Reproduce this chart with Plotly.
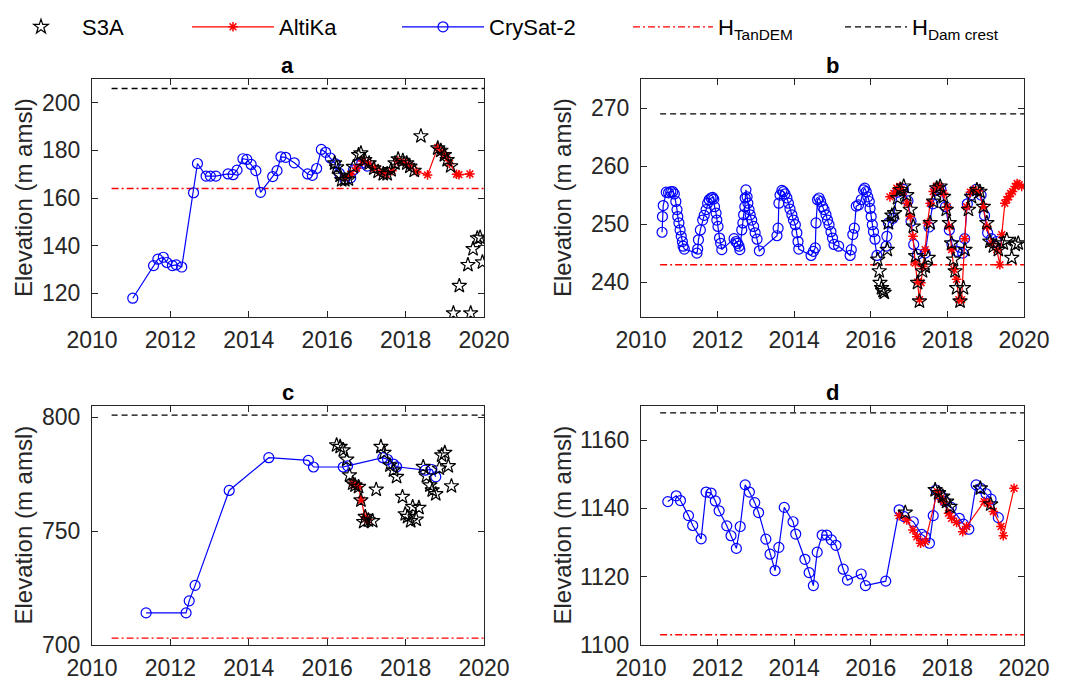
import plotly.graph_objects as go

# ---------------- DATA ----------------
years_ticks = [2010, 2012, 2014, 2016, 2018, 2020]
ref_line_x = [2010.5, 2020.0]

# Panel a
a_cs2_year = [2011.04, 2011.57, 2011.68, 2011.82, 2011.91, 2012.05, 2012.15, 2012.29, 2012.59, 2012.69,
              2012.91, 2013.02, 2013.16, 2013.47, 2013.60, 2013.70, 2013.85, 2013.95, 2014.06, 2014.18,
              2014.30, 2014.61, 2014.72, 2014.82, 2014.94, 2015.16, 2015.50, 2015.62, 2015.73, 2015.85,
              2015.96, 2016.08, 2016.20, 2016.31, 2016.45, 2016.60, 2016.67, 2016.75, 2016.88, 2017.02]
a_cs2_elev = [117.9, 131.6, 134.3, 135.1, 132.9, 131.6, 131.9, 131.0, 162.2, 174.5,
              169.2, 169.2, 169.2, 170.1, 169.8, 171.7, 176.5, 176.2, 174.1, 171.5,
              162.4, 169.0, 171.5, 177.3, 177.1, 174.8, 170.1, 169.5, 172.4, 180.4,
              179.2, 176.8, 174.5, 170.4, 168.0, 168.5, 171.8, 173.9, 174.6, 173.4]
a_alt_year = [2016.45, 2016.60, 2016.75, 2016.90, 2017.05, 2017.20, 2017.35, 2017.50, 2017.65, 2017.80,
              2017.95, 2018.10, 2018.28, 2018.56, 2018.82, 2018.92, 2019.02, 2019.12, 2019.30, 2019.36,
              2019.64]
a_alt_elev = [168.5, 170.0, 172.5, 175.5, 174.5, 172.5, 170.8, 170.0, 171.5, 175.5,
              175.0, 173.5, 171.1, 169.7, 181.2, 179.5, 177.5, 174.5, 170.0, 169.8,
              170.1]
a_s3a_year = [2016.19, 2016.24, 2016.33, 2016.37, 2016.45, 2016.54, 2016.67, 2016.80, 2016.86, 2016.96,
              2017.07, 2017.19, 2017.30, 2017.43, 2017.53, 2017.63, 2017.73, 2017.81, 2017.93, 2018.03,
              2018.11, 2018.22, 2018.39, 2018.82, 2018.90, 2018.99, 2019.06, 2019.15, 2019.22, 2019.37,
              2019.59, 2019.66, 2019.72, 2019.83, 2019.90, 2019.96]
a_s3a_elev = [174.6, 172.9, 169.4, 167.6, 167.6, 167.9, 173.1, 178.1, 178.8, 176.0,
              174.6, 172.5, 171.1, 170.1, 170.1, 171.8, 174.6, 176.3, 175.7, 174.6,
              173.2, 171.5, 186.0, 180.9, 179.9, 178.1, 176.0, 173.4, 111.6, 123.1,
              131.9, 111.6, 138.6, 143.1, 143.4, 133.0]
a_tandem = 164
a_dam = 206

# Panel b
b_cs2_year = [2010.55, 2010.56, 2010.58, 2010.66, 2010.72, 2010.78, 2010.83, 2010.87, 2010.91, 2010.94,
              2010.96, 2010.99, 2011.02, 2011.05, 2011.08, 2011.10, 2011.13, 2011.46, 2011.48, 2011.50,
              2011.55, 2011.61, 2011.65, 2011.70, 2011.74, 2011.78, 2011.83, 2011.87, 2011.90, 2011.92,
              2011.96, 2011.98, 2012.01, 2012.05, 2012.08, 2012.11, 2012.43, 2012.48, 2012.52, 2012.56,
              2012.58, 2012.63, 2012.66, 2012.68, 2012.71, 2012.72, 2012.74, 2012.77, 2012.79, 2012.82,
              2012.85, 2012.89, 2012.94, 2012.98, 2013.03, 2013.09, 2013.55, 2013.58, 2013.60, 2013.63,
              2013.68, 2013.72, 2013.76, 2013.81, 2013.85, 2013.89, 2013.94, 2013.98, 2014.03, 2014.07,
              2014.10, 2014.12, 2014.44, 2014.50, 2014.55, 2014.57, 2014.61, 2014.65, 2014.69, 2014.74,
              2014.78, 2014.83, 2014.87, 2014.91, 2014.96, 2015.00, 2015.04, 2015.16, 2015.46, 2015.49,
              2015.53, 2015.57, 2015.62, 2015.68, 2015.75, 2015.81, 2015.84, 2015.88, 2015.92, 2015.96,
              2015.98, 2016.01, 2016.04, 2016.07, 2016.11, 2016.16, 2016.40, 2016.42, 2016.46, 2016.58,
              2016.70, 2016.85, 2016.97, 2017.05, 2017.12, 2017.22, 2017.42, 2017.52, 2017.62, 2017.72,
              2017.83, 2017.95, 2018.05, 2018.12, 2018.25, 2018.40, 2018.45, 2018.52, 2018.62, 2018.75,
              2018.88, 2018.97, 2019.05, 2019.15, 2019.28]
b_cs2_elev = [248.6, 251.3, 253.2, 255.5, 255.4, 255.6, 255.6, 255.2, 253.9, 252.5,
              251.3, 250.2, 249.0, 247.9, 247.0, 246.2, 245.7, 245.0, 245.7, 247.3,
              249.0, 250.7, 251.5, 252.5, 253.6, 254.2, 254.5, 254.6, 254.3, 253.0,
              251.9, 250.7, 249.6, 247.6, 246.7, 245.6, 247.5, 247.0, 246.7, 246.2,
              245.6, 249.0, 250.2, 251.6, 253.0, 254.5, 255.9, 254.7, 253.6, 252.5,
              251.6, 250.7, 249.6, 248.5, 247.4, 245.4, 248.0, 249.3, 253.6, 255.0,
              255.8, 255.6, 255.2, 254.5, 253.6, 252.6, 251.6, 250.7, 249.9, 248.5,
              247.0, 245.7, 244.6, 245.3, 245.9, 250.2, 254.2, 254.5, 253.9, 253.0,
              252.5, 251.6, 250.7, 249.9, 248.7, 247.6, 246.5, 246.2, 244.6, 245.6,
              248.2, 249.3, 253.1, 253.3, 254.2, 255.9, 256.2, 255.6, 254.7, 253.9,
              252.7, 251.3, 249.9, 248.7, 247.4, 244.6, 246.2, 247.9, 250.2, 251.0,
              255.5, 256.0, 254.0, 250.5, 246.5, 244.8, 245.0, 249.5, 253.5, 255.8,
              256.0, 253.0, 249.0, 246.5, 245.3, 245.0, 247.5, 253.5, 255.0, 256.0,
              255.0, 251.5, 248.5, 247.5, 247.0]
b_alt_year = [2016.50, 2016.60, 2016.68, 2016.76, 2016.85, 2016.95, 2017.03, 2017.10, 2017.16, 2017.22,
              2017.27, 2017.31, 2017.36, 2017.42, 2017.48, 2017.55, 2017.63, 2017.72, 2017.80, 2017.90,
              2017.99, 2018.05, 2018.11, 2018.17, 2018.24, 2018.30, 2018.37, 2018.45, 2018.50, 2018.60,
              2018.68, 2018.81, 2018.94, 2019.03, 2019.16, 2019.29, 2019.37, 2019.42, 2019.50, 2019.55,
              2019.60, 2019.65, 2019.70, 2019.77, 2019.82, 2019.87, 2019.94]
b_alt_elev = [254.7, 255.3, 256.2, 256.5, 255.6, 253.6, 251.3, 247.9, 243.3, 240.0,
              237.0, 239.9, 242.7, 245.6, 250.2, 253.6, 255.6, 256.6, 256.5, 255.3,
              253.0, 249.6, 245.6, 242.2, 240.5, 237.0, 237.0, 247.5, 253.0, 255.5,
              255.9, 255.7, 253.0, 249.6, 246.7, 245.6, 243.0, 248.2, 253.6, 254.2,
              254.7, 255.3, 255.6, 256.5, 257.0, 256.8, 256.5]
b_s3a_year = [2016.18, 2016.22, 2016.24, 2016.28, 2016.32, 2016.35, 2016.43, 2016.46, 2016.55, 2016.62,
              2016.70, 2016.78, 2016.86, 2016.94, 2017.03, 2017.11, 2017.17, 2017.22, 2017.27, 2017.35,
              2017.42, 2017.50, 2017.55, 2017.64, 2017.72, 2017.81, 2017.90, 2017.97, 2018.05, 2018.11,
              2018.16, 2018.20, 2018.24, 2018.33, 2018.42, 2018.46, 2018.55, 2018.63, 2018.77, 2018.85,
              2018.94, 2019.03, 2019.11, 2019.20, 2019.33, 2019.46, 2019.55, 2019.68, 2019.77, 2019.85]
b_s3a_elev = [243.9, 241.9, 239.9, 239.0, 238.5, 238.2, 245.6, 250.2, 251.5, 251.9,
              254.5, 255.9, 256.5, 255.0, 252.5, 249.6, 244.5, 239.9, 236.7, 241.9,
              242.7, 244.2, 250.2, 253.9, 256.2, 256.5, 254.7, 252.5, 250.2, 246.7,
              243.9, 241.9, 239.0, 236.7, 239.0, 245.6, 252.5, 254.7, 255.9, 255.6,
              253.0, 250.2, 247.0, 246.2, 245.6, 246.7, 247.3, 244.2, 246.5, 246.7]
b_tandem = 243
b_dam = 269

# Panel c
c_cs2_year = [2011.38, 2012.40, 2012.48, 2012.63, 2013.50, 2014.51, 2015.52, 2015.65, 2016.41, 2016.52,
              2017.42, 2017.54, 2017.69, 2017.77, 2018.50, 2018.67, 2018.77]
c_cs2_elev = [714.1, 714.1, 719.4, 726.2, 767.9, 782.3, 781.1, 778.2, 778.2, 778.7,
              782.3, 781.5, 779.5, 778.3, 776.8, 777.1, 773.9]
c_alt_year = [2016.65, 2016.72, 2016.80, 2016.87, 2016.96, 2017.03]
c_alt_elev = [771.0, 770.5, 769.5, 763.6, 756.3, 755.0]
c_s3a_year = [2016.24, 2016.33, 2016.41, 2016.50, 2016.57, 2016.65, 2016.71, 2016.80, 2016.86, 2016.97,
              2016.93, 2017.05, 2017.16, 2017.25, 2017.37, 2017.45, 2017.60, 2017.69, 2017.77, 2017.92,
              2017.99, 2018.05, 2018.13, 2018.18, 2018.27, 2018.34, 2018.45, 2018.53, 2018.62, 2018.68,
              2018.77, 2018.86, 2018.92, 2019.00, 2019.09, 2019.17]
c_s3a_elev = [787.8, 787.1, 785.6, 781.5, 774.6, 771.0, 770.2, 769.5, 763.6, 756.3,
              754.1, 754.8, 754.5, 768.3, 787.1, 784.5, 779.0, 776.8, 773.9, 765.1,
              757.5, 756.3, 754.5, 760.7, 755.1, 760.3, 778.3, 774.2, 770.2, 768.0,
              766.3, 777.6, 783.4, 784.5, 778.6, 769.8]
c_tandem = 703
c_dam = 801

# Panel d
d_cs2_year = [2010.70, 2010.92, 2011.03, 2011.24, 2011.35, 2011.57, 2011.70, 2011.83, 2011.94, 2012.04,
              2012.24, 2012.35, 2012.49, 2012.59, 2012.72, 2012.83, 2012.97, 2013.07, 2013.26, 2013.37,
              2013.50, 2013.60, 2013.74, 2013.97, 2014.04, 2014.28, 2014.39, 2014.50, 2014.60, 2014.73,
              2014.85, 2014.97, 2015.09, 2015.28, 2015.39, 2015.75, 2015.86, 2016.39, 2016.74, 2016.87,
              2017.11, 2017.33, 2017.42, 2017.53, 2017.63, 2017.70, 2017.83, 2017.94, 2018.10, 2018.31,
              2018.42, 2018.56, 2018.75, 2018.87, 2019.01, 2019.14, 2019.33]
d_cs2_elev = [1142.0, 1143.7, 1142.3, 1137.9, 1135.0, 1131.1, 1144.8, 1144.5, 1142.2, 1139.3,
              1134.9, 1132.0, 1128.3, 1134.7, 1146.9, 1144.8, 1141.7, 1138.8, 1131.0, 1126.6,
              1121.8, 1128.6, 1140.3, 1136.1, 1132.5, 1125.1, 1121.2, 1117.4, 1127.2, 1132.2,
              1132.2, 1130.8, 1129.2, 1122.2, 1119.0, 1120.8, 1117.4, 1118.7, 1139.6, 1137.6,
              1136.1, 1132.4, 1131.7, 1129.8, 1137.9, 1145.4, 1143.7, 1142.0, 1140.3, 1137.1,
              1135.4, 1133.9, 1146.9, 1145.9, 1144.3, 1142.7, 1137.3]
d_alt_year = [2016.74, 2016.94, 2017.10, 2017.20, 2017.30, 2017.42, 2017.74, 2017.83, 2017.90, 2018.03,
              2018.11, 2018.24, 2018.40, 2018.50, 2018.96, 2019.07, 2019.20, 2019.40, 2019.46, 2019.74]
d_alt_elev = [1137.9, 1136.6, 1133.7, 1131.7, 1129.8, 1130.3, 1144.9, 1143.0, 1142.0, 1138.6,
              1137.1, 1135.9, 1133.2, 1134.7, 1142.0, 1141.5, 1139.1, 1134.7, 1132.0, 1145.9]
d_s3a_year = [2016.90, 2017.68, 2017.77, 2017.88, 2017.98, 2018.07, 2018.86, 2019.13]
d_s3a_elev = [1138.8, 1145.4, 1144.5, 1143.5, 1142.0, 1140.5, 1145.9, 1141.2]
d_tandem = 1103
d_dam = 1168

panel_labels = ["a", "b", "c", "d"]
y_ranges = [[110, 210], [234, 275], [700, 805], [1100, 1170]]
y_ticks = [[120, 140, 160, 180, 200], [240, 250, 260, 270], [700, 750, 800], [1100, 1120, 1140, 1160]]
y_title = "Elevation (m amsl)"
legend_names = ["S3A", "AltiKa", "CrySat-2", "H<sub>TanDEM</sub>", "H<sub>Dam crest</sub>"]

panels = [
    (a_cs2_year, a_cs2_elev, a_alt_year, a_alt_elev, a_s3a_year, a_s3a_elev, a_tandem, a_dam),
    (b_cs2_year, b_cs2_elev, b_alt_year, b_alt_elev, b_s3a_year, b_s3a_elev, b_tandem, b_dam),
    (c_cs2_year, c_cs2_elev, c_alt_year, c_alt_elev, c_s3a_year, c_s3a_elev, c_tandem, c_dam),
    (d_cs2_year, d_cs2_elev, d_alt_year, d_alt_elev, d_s3a_year, d_s3a_elev, d_tandem, d_dam),
]

# ---------------- LAYOUT GEOMETRY (pixels) ----------------
W, H = 1065, 684
x_dom_px = [(92, 484), (641, 1024), (92, 484), (641, 1024)]
y_dom_px = [(79, 317), (79, 317), (406, 645), (406, 645)]
ytitle_x_px = [23, 562, 23, 562]

FONT = "Liberation Sans, Arial, Helvetica, sans-serif"
AXC = "#262626"
DAM_DASH = "6px,4px"
TAN_DASH = "7px,3px,2px,3px"

fig = go.Figure()

legend_ids = ["legend", "legend2", "legend3", "legend4", "legend5"]

for i, (cy, ce, ay, ae, sy, se, tan, dam) in enumerate(panels):
    xa = "x" if i == 0 else f"x{i+1}"
    ya = "y" if i == 0 else f"y{i+1}"
    show = (i == 0)
    fig.add_trace(go.Scatter(x=ref_line_x, y=[dam, dam], mode="lines",
                             line=dict(color="black", width=1.3, dash=DAM_DASH),
                             name=legend_names[4], legend=legend_ids[4], showlegend=show,
                             xaxis=xa, yaxis=ya, hoverinfo="skip"))
    fig.add_trace(go.Scatter(x=ref_line_x, y=[tan, tan], mode="lines",
                             line=dict(color="#FF0000", width=1.3, dash=TAN_DASH),
                             name=legend_names[3], legend=legend_ids[3], showlegend=show,
                             xaxis=xa, yaxis=ya, hoverinfo="skip"))
    fig.add_trace(go.Scatter(x=cy, y=ce, mode="lines+markers",
                             line=dict(color="#0000FF", width=1.2),
                             marker=dict(symbol="circle-open", size=10, color="#0000FF",
                                         line=dict(width=1.2, color="#0000FF")),
                             name=legend_names[2], legend=legend_ids[2], showlegend=show,
                             xaxis=xa, yaxis=ya))
    fig.add_trace(go.Scatter(x=ay, y=ae, mode="lines+markers",
                             line=dict(color="#FF0000", width=1.2),
                             marker=dict(symbol="asterisk-open", size=8, color="#FF0000",
                                         line=dict(width=1.5, color="#FF0000")),
                             name=legend_names[1], legend=legend_ids[1], showlegend=show,
                             xaxis=xa, yaxis=ya))
    fig.add_trace(go.Scatter(x=sy, y=se, mode="markers",
                             marker=dict(symbol="star-open", size=11, color="black",
                                         line=dict(width=1.2, color="black")),
                             name=legend_names[0], legend=legend_ids[0], showlegend=show,
                             xaxis=xa, yaxis=ya))

layout = dict(
    width=W, height=H,
    margin=dict(l=0, r=0, t=0, b=0, autoexpand=False),
    paper_bgcolor="white", plot_bgcolor="white",
    font=dict(family=FONT, size=22, color=AXC),
    showlegend=True,
)

for i in range(4):
    xk = "xaxis" if i == 0 else f"xaxis{i+1}"
    yk = "yaxis" if i == 0 else f"yaxis{i+1}"
    ya = "y" if i == 0 else f"y{i+1}"
    xa = "x" if i == 0 else f"x{i+1}"
    x0, x1 = x_dom_px[i]
    y0, y1 = y_dom_px[i]
    layout[xk] = dict(domain=[x0 / W, x1 / W], range=[2010, 2020], anchor=ya,
                      tickvals=years_ticks, ticks="inside", ticklen=6, tickwidth=1,
                      tickcolor=AXC, showline=True, linecolor=AXC, linewidth=1,
                      mirror="ticks", showgrid=False, zeroline=False, automargin=False,
                      ticklabelstandoff=2,
                      tickfont=dict(size=23, color=AXC, family=FONT))
    layout[yk] = dict(domain=[1 - y1 / H, 1 - y0 / H], range=y_ranges[i], anchor=xa,
                      tickvals=y_ticks[i], ticks="inside", ticklen=6, tickwidth=1,
                      tickcolor=AXC, showline=True, linecolor=AXC, linewidth=1,
                      mirror="ticks", showgrid=False, zeroline=False, automargin=False,
                      ticklabelstandoff=6,
                      tickfont=dict(size=23, color=AXC, family=FONT))

annotations = []
for i in range(4):
    x0, x1 = x_dom_px[i]
    y0, y1 = y_dom_px[i]
    annotations.append(dict(text=f"<b>{panel_labels[i]}</b>", x=(x0 + x1) / 2 / W, y=1 - y0 / H,
                            xref="paper", yref="paper", xanchor="center", yanchor="bottom",
                            yshift=-1, showarrow=False, font=dict(size=22, color="black", family=FONT)))
    annotations.append(dict(text=y_title, x=ytitle_x_px[i] / W, y=1 - (y0 + y1) / 2 / H,
                            xref="paper", yref="paper", xanchor="center", yanchor="middle",
                            textangle=-90, showarrow=False,
                            font=dict(size=24, color=AXC, family=FONT)))
layout["annotations"] = annotations

# individual legends placed along the top
legend_x_px = [0, 187, 397, 628, 840]
legend_itemw = [72, 82, 82, 80, 62]
for k, lid in enumerate(legend_ids):
    layout[lid] = dict(x=legend_x_px[k] / W, y=1 - 27 / H, xanchor="left", yanchor="middle",
                       orientation="h", bgcolor="rgba(0,0,0,0)", borderwidth=0,
                       itemwidth=legend_itemw[k],
                       font=dict(size=22, color="black", family=FONT))

fig.update_layout(**layout)
fig.write_html("out.html")
